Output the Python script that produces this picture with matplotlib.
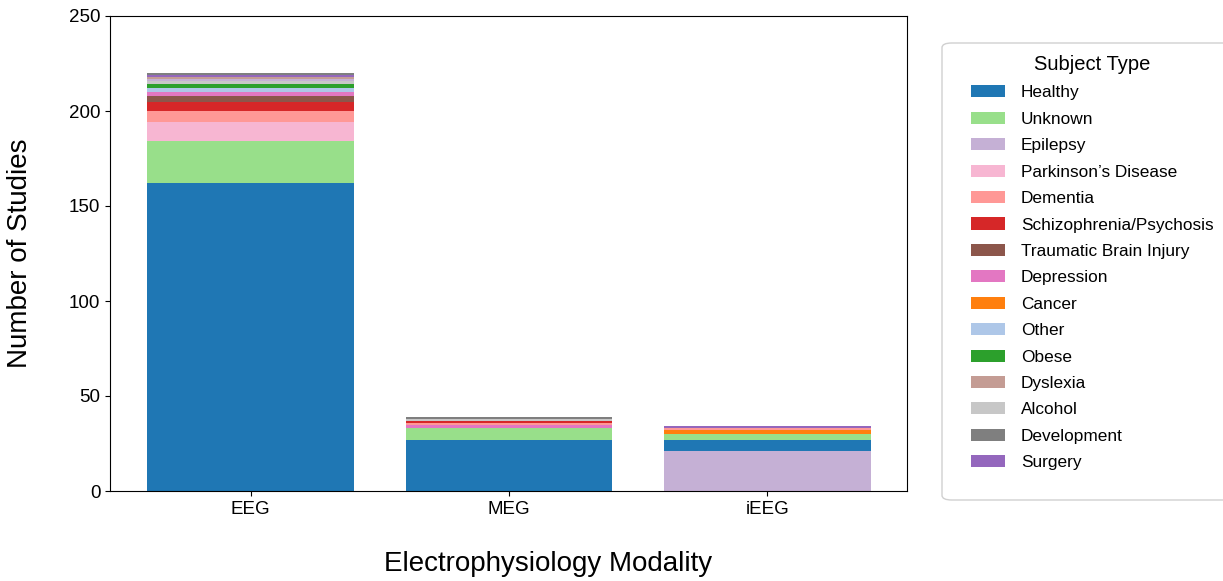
import matplotlib
matplotlib.use("Agg")
import matplotlib.pyplot as plt
from matplotlib.patches import Patch, FancyBboxPatch
import numpy as np

plt.rcParams['font.family'] = ['Liberation Sans', 'DejaVu Sans']

modalities = ["EEG", "MEG", "iEEG"]

subject_types = ["Healthy", "Unknown", "Epilepsy", "Parkinson’s Disease", "Dementia",
                 "Schizophrenia/Psychosis", "Traumatic Brain Injury", "Depression",
                 "Cancer", "Other", "Obese", "Dyslexia", "Alcohol", "Development",
                 "Surgery"]

# Number of studies per modality (EEG, MEG, iEEG)
healthy       = [162, 27, 6]
unknown       = [22, 6, 3]
epilepsy      = [1, 0, 21]
parkinsons    = [10, 0, 0]
dementia      = [6, 1, 1]
schizophrenia = [5, 1, 0]
tbi           = [3, 0, 0]
depression    = [2, 2, 0]
cancer        = [0, 0, 2]
other         = [2, 0, 0]
obese         = [2, 0, 0]
dyslexia      = [1, 0, 0]
alcohol       = [2, 1, 0]
development   = [1, 1, 0]
surgery       = [1, 0, 1]

counts = [healthy, unknown, epilepsy, parkinsons, dementia, schizophrenia, tbi,
          depression, cancer, other, obese, dyslexia, alcohol, development, surgery]

colors = ["#1f77b4", "#98df8a", "#c5b0d5", "#f7b6d2", "#ff9896", "#d62728",
          "#8c564b", "#e377c2", "#ff7f0e", "#aec7e8", "#2ca02c", "#c49c94",
          "#c7c7c7", "#7f7f7f", "#9467bd"]

# Order used to break ties when stacking equal counts
tie_order = ["Healthy", "Unknown", "Epilepsy", "Parkinson’s Disease", "Dementia",
             "Schizophrenia/Psychosis", "Traumatic Brain Injury", "Depression",
             "Cancer", "Other", "Obese", "Dyslexia", "Alcohol", "Surgery",
             "Development"]

fig = plt.figure(figsize=(12.23, 5.81), dpi=100)
ax = fig.add_axes([110 / 1223, 1 - 491 / 581, (907 - 110) / 1223, (491 - 16) / 581])

# Within each bar, the largest groups sit at the bottom
data = np.array(counts, dtype=float)
for j in range(len(modalities)):
    order = sorted(range(len(subject_types)),
                   key=lambda i: (-data[i, j], tie_order.index(subject_types[i])))
    base = 0.0
    for i in order:
        v = data[i, j]
        if v <= 0:
            continue
        ax.bar(j, v, width=0.8, bottom=base, color=colors[i], linewidth=0)
        base += v

ax.set_xlim(-0.545, 2.54)
ax.set_ylim(0, 250)
ax.set_xticks(range(len(modalities)))
ax.set_xticklabels(modalities, fontsize=13.5)
ax.set_yticks([0, 50, 100, 150, 200, 250])
ax.tick_params(axis='y', labelsize=13.5)
ax.set_ylabel("Number of Studies", fontsize=20, labelpad=26)
ax.set_xlabel("Electrophysiology Modality", fontsize=20, labelpad=24)
ax.xaxis.label.set_x((548 - 110) / (907 - 110))

# Legend frame drawn separately so the inner padding can differ per side
frame = FancyBboxPatch((942 / 1223, 1 - 500 / 581), (1240 - 942) / 1223, (500 - 43) / 581,
                       boxstyle="round,pad=0,rounding_size=0.008",
                       transform=fig.transFigure, facecolor="white",
                       edgecolor="#d0d0d0", linewidth=1.0, zorder=1)
fig.patches.append(frame)

handles = [Patch(facecolor=c, edgecolor='none') for c in colors]
leg = fig.legend(handles, subject_types, title="Subject Type",
                 loc="upper left", bbox_to_anchor=(971 / 1223, 1 - 55 / 581),
                 bbox_transform=fig.transFigure, borderaxespad=0, borderpad=0,
                 fontsize=12.4, title_fontsize=14.5, labelspacing=0.66,
                 handlelength=2.0, handleheight=0.7, handletextpad=0.9,
                 frameon=False)
leg.set_zorder(2)

fig.savefig("out.png", dpi=100)
